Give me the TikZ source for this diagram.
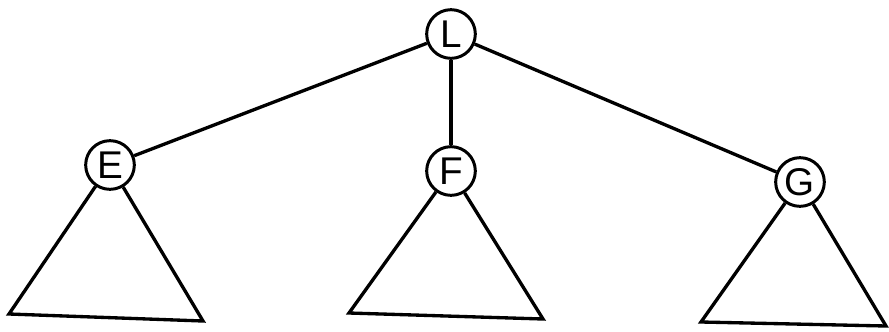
\documentclass[tikz,border=0pt]{standalone}
\usepackage{fontspec}
\setmainfont{Liberation Sans}
\begin{document}
\begin{tikzpicture}[x=0.03cm,y=-0.03cm,
  treenode/.style={circle,draw,line width=0.09cm,minimum size=1.46cm,inner sep=0pt,
    font=\fontsize{33}{33}\selectfont},
  edge/.style={line width=0.1cm},
  subtree/.style={line width=0.1cm,line join=miter}]
\useasboundingbox (0,0) rectangle (889,331);
\node[treenode] (L) at (451,34) {L};
\node[treenode] (E) at (110,165) {E};
\node[treenode] (F) at (451,171) {F};
\node[treenode] (G) at (800,182) {G};
\coordinate (e1) at (9,314);
\coordinate (e2) at (203,321);
\coordinate (f1) at (349,313);
\coordinate (f2) at (543,319);
\coordinate (g1) at (701,322);
\coordinate (g2) at (886,326);
\draw[edge] (L) -- (E);
\draw[edge] (L) -- (F);
\draw[edge] (L) -- (G);
\draw[subtree] (E) -- (e1) -- (e2) -- (E);
\draw[subtree] (F) -- (f1) -- (f2) -- (F);
\draw[subtree] (G) -- (g1) -- (g2) -- (G);
\end{tikzpicture}
\end{document}
